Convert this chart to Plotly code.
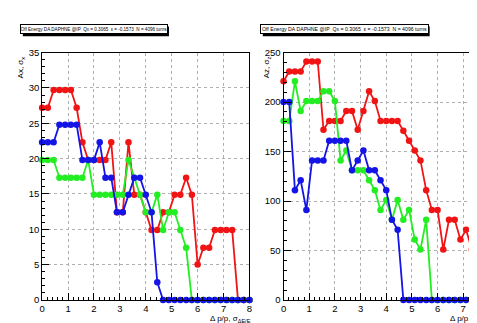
import plotly.graph_objects as go

# ---------------- data ----------------
dp = [0.0, 0.222, 0.444, 0.667, 0.889, 1.111, 1.333, 1.556, 1.778, 2.0,
      2.222, 2.444, 2.667, 2.889, 3.111, 3.333, 3.556, 3.778, 4.0, 4.222,
      4.444, 4.667, 4.889, 5.111, 5.333, 5.556, 5.778, 6.0, 6.222, 6.444,
      6.667, 6.889, 7.111, 7.333, 7.556, 7.778, 8.0]

ax_red = [27.2, 27.2, 29.7, 29.7, 29.7, 29.7, 27.2, 22.3, 19.8, 19.8,
          19.8, 19.8, 22.3, 12.4, 12.4, 22.3, 14.9, 14.9, 12.4, 9.9,
          9.9, 12.4, 12.4, 14.9, 14.9, 17.3, 14.9, 5.0, 7.4, 7.4,
          9.9, 9.9, 9.9, 9.9, 0, 0, 0]
ax_green = [19.8, 19.8, 19.8, 17.3, 17.3, 17.3, 17.3, 17.3, 19.8, 14.9,
            14.9, 14.9, 14.9, 14.9, 14.9, 19.8, 17.3, 14.9, 12.4, 12.4,
            14.9, 9.9, 12.4, 12.4, 9.9, 7.4, 0, 0, 0, 0,
            0, 0, 0, 0, 0, 0, 0]
ax_blue = [22.3, 22.3, 22.3, 24.8, 24.8, 24.8, 24.8, 19.8, 19.8, 19.8,
           22.3, 17.3, 17.3, 12.4, 12.4, 14.9, 17.3, 17.3, 14.9, 12.4,
           2.5, 0, 0, 0, 0, 0, 0, 0, 0, 0,
           0, 0, 0, 0, 0, 0, 0]

az_red = [221, 231, 231, 231, 241, 241, 241, 172, 181, 181,
          181, 191, 191, 172, 191, 211, 201, 181, 181, 181,
          181, 171, 161, 151, 141, 111, 91, 91, 51, 81,
          81, 61, 71, 51, 0, 0, 0]
az_green = [181, 181, 221, 191, 201, 201, 201, 211, 211, 201,
            141, 151, 131, 131, 131, 121, 111, 91, 101, 81,
            101, 81, 91, 61, 51, 81, 0, 0, 0, 0,
            0, 0, 0, 0, 0, 0, 0]
az_blue = [200, 200, 111, 121, 91, 141, 141, 141, 161, 161,
           161, 161, 131, 141, 151, 131, 131, 121, 111, 81,
           71, 0, 0, 0, 0, 0, 0, 0, 0, 0,
           0, 0, 0, 0, 0, 0, 0]

x_ticks = [0, 1, 2, 3, 4, 5, 6, 7, 8]
title_text = "Off Energy DA DAPHNE @IP  Qx = 0.3065  \u03b5 = -0.1573  N = 4096 turns"

# ---------------- layout helpers ----------------
W, H = 477, 323
def px(x):
    return x / W
def py(y):
    return 1 - y / H

RED, GREEN, BLUE = "#f01414", "#22ee22", "#1414e6"
FONT = "Liberation Sans, Arial, sans-serif"

fig = go.Figure()

def add(xs, ys, color, xa, ya):
    fig.add_trace(go.Scatter(
        x=xs, y=ys, xaxis=xa, yaxis=ya, mode="lines+markers",
        line=dict(color=color, width=1.8),
        marker=dict(size=6.5, color=color),
        cliponaxis=False, showlegend=False, hoverinfo="skip"))

add(dp, ax_red, RED, "x", "y")
add(dp, ax_green, GREEN, "x", "y")
add(dp, ax_blue, BLUE, "x", "y")
add(dp, az_red, RED, "x2", "y2")
add(dp, az_green, GREEN, "x2", "y2")
add(dp, az_blue, BLUE, "x2", "y2")

common_x = dict(
    showline=True, mirror=True, linecolor="black", linewidth=1,
    ticks="inside", ticklen=7, tickcolor="black", tickwidth=1,
    tickvals=x_ticks, showgrid=True, gridcolor="#b0b0b0", griddash="dot",
    gridwidth=1, zeroline=False,
    tickfont=dict(family=FONT, size=9.5, color="black"),
    minor=dict(ticks="inside", ticklen=3, dtick=0.2, tickcolor="black",
               showgrid=False),
)
common_y = dict(
    showline=True, mirror=True, linecolor="black", linewidth=1,
    ticks="inside", ticklen=7, tickcolor="black", tickwidth=1,
    showgrid=True, gridcolor="#b0b0b0", griddash="dot", gridwidth=1,
    zeroline=False,
    tickfont=dict(family=FONT, size=9.5, color="black"),
)

fig.update_layout(
    width=W, height=H, margin=dict(l=0, r=0, t=0, b=0),
    paper_bgcolor="white", plot_bgcolor="white",
    xaxis=dict(domain=[px(31.5), px(241.5)], range=[0, 8], anchor="y", **common_x),
    yaxis=dict(domain=[py(296), py(40)], range=[0, 35], anchor="x", dtick=5,
               minor=dict(ticks="inside", ticklen=3, dtick=1, tickcolor="black", showgrid=False),
               **common_y),
    xaxis2=dict(domain=[px(276), 1], range=[0, 7.73], anchor="y2", **common_x),
    yaxis2=dict(domain=[py(296), py(40)], range=[0, 250], anchor="x2", dtick=50,
                minor=dict(ticks="inside", ticklen=3, dtick=10, tickcolor="black", showgrid=False),
                **common_y),
)

ann = []
# axis titles
ann.append(dict(text="Ax, \u03c3<sub>x</sub>", x=px(10), y=py(42), xref="paper", yref="paper",
                xanchor="center", yanchor="top", textangle=-90, showarrow=False,
                font=dict(family=FONT, size=8, color="black")))
ann.append(dict(text="Az, \u03c3<sub>z</sub>", x=px(259), y=py(42), xref="paper", yref="paper",
                xanchor="center", yanchor="top", textangle=-90, showarrow=False,
                font=dict(family=FONT, size=8, color="black")))
ann.append(dict(text="\u0394 p/p, \u03c3<sub>\u0394E/E</sub>", x=px(245), y=py(316), xref="paper", yref="paper",
                xanchor="right", yanchor="middle", showarrow=False,
                font=dict(family=FONT, size=8, color="black")))
ann.append(dict(text="\u0394 p/p, \u03c3<sub>\u0394E/E</sub>", x=px(443), y=py(316), xref="paper", yref="paper",
                xanchor="left", yanchor="middle", showarrow=False,
                font=dict(family=FONT, size=8, color="black")))

# title boxes with shadow
shapes = []
for (x0, x1, fs) in [(10, 158, 4.6), (253, 422, 5.2)]:
    y0, y1 = 11, 21
    shapes.append(dict(type="rect", xref="paper", yref="paper",
                       x0=px(x0 + 2), x1=px(x1 + 2), y0=py(y1 + 2), y1=py(y0 + 2),
                       fillcolor="black", line=dict(width=0), layer="above"))
    ann.append(dict(text=title_text, x=px((x0 + x1) / 2), y=py((y0 + y1) / 2),
                    xref="paper", yref="paper", xanchor="center", yanchor="middle",
                    showarrow=False, width=x1 - x0 - 2, height=y1 - y0 - 2,
                    bgcolor="white", bordercolor="black", borderwidth=1, borderpad=0,
                    font=dict(family=FONT, size=fs, color="black")))

fig.update_layout(annotations=ann, shapes=shapes)
fig.write_html("out.html")
